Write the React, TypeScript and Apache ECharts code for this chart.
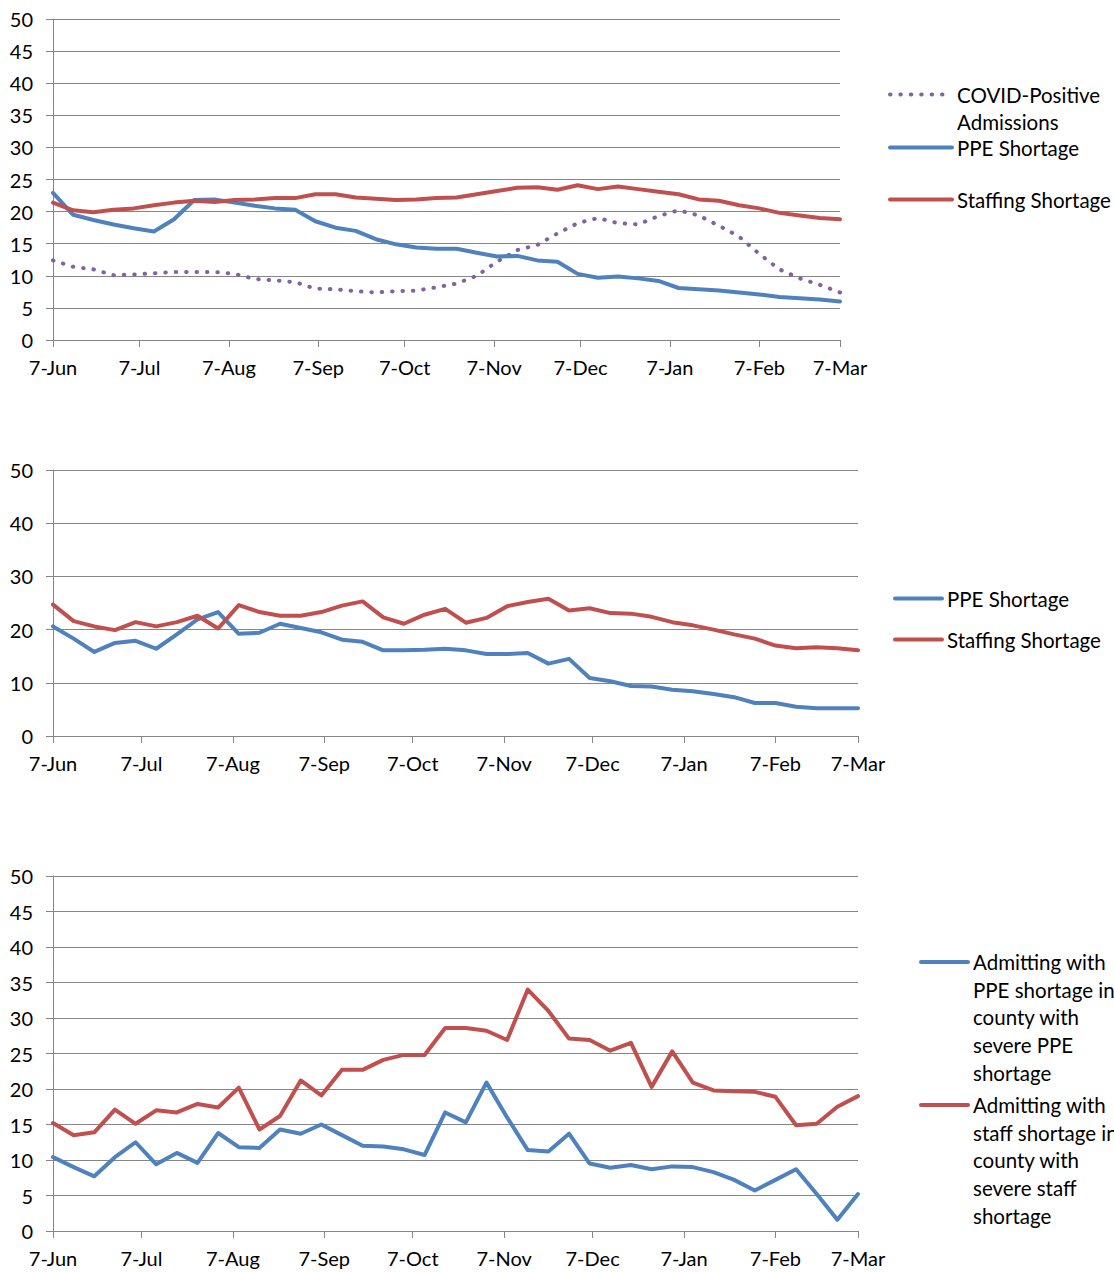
import React, { useEffect, useRef } from 'react';
import * as echarts from 'echarts';

// Weekly observations, 7-Jun through 7-Mar (40 weeks)
const weekDays = Array.from({ length: 40 }, (_, i) => i * 7);
const tickDays = [0, 30, 61, 92, 122, 153, 183, 214, 245, 273];
const tickLabels = ['7-Jun', '7-Jul', '7-Aug', '7-Sep', '7-Oct', '7-Nov', '7-Dec', '7-Jan', '7-Feb', '7-Mar'];

// Chart 1
const covidPositive = [12.4, 11.4, 11.0, 10.1, 10.2, 10.4, 10.6, 10.6, 10.6, 10.3, 9.5, 9.3, 9.0, 8.0, 7.9, 7.6, 7.4, 7.6, 7.7, 8.2, 8.8, 10.0, 12.2, 14.0, 14.8, 16.6, 18.2, 19.0, 18.2, 18.0, 19.3, 20.2, 19.4, 17.8, 16.1, 13.4, 11.0, 9.6, 8.6, 7.4];
const ppe1 = [22.9, 19.5, 18.7, 18.0, 17.4, 16.9, 18.8, 21.8, 21.9, 21.4, 20.9, 20.5, 20.3, 18.5, 17.5, 17.0, 15.7, 14.9, 14.4, 14.2, 14.2, 13.6, 13.0, 13.1, 12.4, 12.2, 10.3, 9.7, 9.9, 9.6, 9.2, 8.1, 7.9, 7.7, 7.4, 7.1, 6.7, 6.5, 6.3, 6.0];
const staff1 = [21.4, 20.2, 19.9, 20.3, 20.5, 21.0, 21.4, 21.7, 21.5, 21.8, 21.9, 22.1, 22.1, 22.7, 22.7, 22.2, 22.0, 21.8, 21.9, 22.1, 22.2, 22.7, 23.2, 23.7, 23.8, 23.4, 24.1, 23.5, 23.9, 23.5, 23.1, 22.7, 21.9, 21.7, 21.0, 20.5, 19.8, 19.4, 19.0, 18.8];

// Chart 2
const ppe2 = [20.6, 18.3, 15.8, 17.5, 17.9, 16.4, 19.1, 21.9, 23.3, 19.2, 19.4, 21.1, 20.3, 19.5, 18.1, 17.7, 16.1, 16.1, 16.2, 16.4, 16.1, 15.4, 15.4, 15.6, 13.6, 14.5, 10.9, 10.3, 9.4, 9.3, 8.7, 8.4, 7.9, 7.3, 6.2, 6.2, 5.5, 5.2, 5.2, 5.2];
const staff2 = [24.7, 21.6, 20.6, 19.9, 21.4, 20.6, 21.4, 22.6, 20.2, 24.6, 23.3, 22.6, 22.6, 23.3, 24.5, 25.3, 22.3, 21.1, 22.8, 23.9, 21.3, 22.2, 24.4, 25.2, 25.8, 23.6, 24.0, 23.1, 23.0, 22.4, 21.4, 20.8, 20.0, 19.1, 18.3, 17.0, 16.5, 16.7, 16.5, 16.1];

// Chart 3
const ppeSevere = [10.4, 9.0, 7.7, 10.4, 12.5, 9.4, 11.0, 9.6, 13.8, 11.8, 11.7, 14.3, 13.7, 15.0, 13.5, 12.0, 11.9, 11.5, 10.7, 16.7, 15.3, 20.9, 16.0, 11.4, 11.2, 13.7, 9.5, 8.9, 9.3, 8.7, 9.1, 9.0, 8.3, 7.2, 5.7, 7.2, 8.7, 5.2, 1.6, 5.2];
const staffSevere = [15.2, 13.5, 13.9, 17.1, 15.1, 17.0, 16.7, 17.9, 17.4, 20.2, 14.3, 16.2, 21.2, 19.1, 22.7, 22.7, 24.1, 24.8, 24.8, 28.6, 28.6, 28.2, 26.9, 34.0, 31.0, 27.1, 26.9, 25.4, 26.5, 20.3, 25.3, 20.9, 19.8, 19.7, 19.6, 18.9, 14.9, 15.1, 17.5, 19.0];

const names = {
  covid: 'COVID-Positive Admissions',
  ppe: 'PPE Shortage',
  staff: 'Staffing Shortage',
  ppeSevere: 'Admitting with PPE shortage in county with severe PPE shortage',
  staffSevere: 'Admitting with staff shortage in county with severe staff shortage',
};
const legendText: Record<string, string> = {
  [names.covid]: 'COVID-Positive\nAdmissions',
  [names.ppe]: 'PPE Shortage',
  [names.staff]: 'Staffing Shortage',
  [names.ppeSevere]: 'Admitting with\nPPE shortage in\ncounty with\nsevere PPE\nshortage',
  [names.staffSevere]: 'Admitting with\nstaff shortage in\ncounty with\nsevere staff\nshortage',
};

const BLUE = '#4F81BD';
const RED = '#C0504D';
const PURPLE = '#8064A2';
const GREY = '#868686';
const FONT = 'Lato';

export default function App() {
  const ref = useRef<HTMLDivElement>(null);
  useEffect(() => {
    if (!ref.current) return;
    const chart = echarts.init(ref.current, undefined, { renderer: 'svg' });

    const grids = [
      { left: 53, top: 19, width: 787, height: 321 },
      { left: 53, top: 470, width: 805, height: 266 },
      { left: 53, top: 876, width: 805, height: 355 },
    ];
    const yIntervals = [5, 10, 5];

    const xAxes = grids.map((_, i) => ({
      type: 'value',
      gridIndex: i,
      min: 0,
      max: 273,
      axisLine: { show: true, lineStyle: { color: GREY, width: 1 } },
      axisTick: { show: true, customValues: tickDays, length: 7, lineStyle: { color: GREY } },
      axisLabel: {
        customValues: tickDays,
        formatter: (v: number) => tickLabels[tickDays.indexOf(Math.round(v))] ?? '',
        color: '#000',
        fontFamily: FONT,
        fontSize: 20,
        margin: 17,
      },
      splitLine: { show: false },
    }));
    const yAxes = grids.map((_, i) => ({
      type: 'value',
      gridIndex: i,
      min: 0,
      max: 50,
      interval: yIntervals[i],
      axisLine: { show: true, lineStyle: { color: GREY, width: 1 } },
      axisTick: { show: true, length: 7, lineStyle: { color: GREY } },
      axisLabel: { color: '#000', fontFamily: FONT, fontSize: 20, margin: 20 },
      splitLine: { show: true, lineStyle: { color: GREY, width: 1 } },
    }));

    const mk = (name: string, values: number[], color: string, idx: number, dotted = false) => ({
      type: 'line',
      name,
      xAxisIndex: idx,
      yAxisIndex: idx,
      data: values.map((v, i) => [weekDays[i], v]),
      symbol: 'none',
      color,
      lineStyle: {
        color,
        width: 4,
        cap: 'round',
        join: 'round',
        type: dotted ? [0.5, 9.9] : 'solid',
      },
      emphasis: { disabled: true },
    });

    // Legend item whose first text line is level with its line marker.
    const legendItem = (name: string, left: number, iconY: number, itemWidth: number, lh: number) => {
      const lines = legendText[name].split('\n').length;
      const itemHeight = 4;
      return {
        data: [name],
        left,
        top: iconY - 14 - (lines - 1) * lh,
        orient: 'vertical',
        padding: 0,
        itemGap: 0,
        itemWidth,
        itemHeight,
        selectedMode: false,
        formatter: (n: string) => '\n'.repeat(lines - 1) + legendText[n],
        itemStyle: { opacity: 0 },
        lineStyle: { width: 4, cap: 'round' },
        textStyle: {
          color: '#000',
          fontFamily: FONT,
          fontSize: 20.5,
          lineHeight: lh,
        },
      };
    };

    chart.setOption({
      animation: false,
      backgroundColor: '#fff',
      grid: grids,
      xAxis: xAxes,
      yAxis: yAxes,
      legend: [
        legendItem(names.covid, 888, 95, 62, 27),
        legendItem(names.ppe, 888, 148, 62, 27),
        legendItem(names.staff, 888, 200, 62, 27),
        legendItem(names.ppe, 893, 599, 47, 27),
        legendItem(names.staff, 893, 640, 47, 27),
        legendItem(names.ppeSevere, 919, 962, 47, 27.8),
        legendItem(names.staffSevere, 919, 1105, 47, 27.8),
      ],
      series: [
        mk(names.covid, covidPositive, PURPLE, 0, true),
        mk(names.ppe, ppe1, BLUE, 0),
        mk(names.staff, staff1, RED, 0),
        mk(names.ppe, ppe2, BLUE, 1),
        mk(names.staff, staff2, RED, 1),
        mk(names.ppeSevere, ppeSevere, BLUE, 2),
        mk(names.staffSevere, staffSevere, RED, 2),
      ],
    });
    return () => chart.dispose();
  }, []);

  return (
    <div
      ref={ref}
      style={{ position: 'absolute', left: 0, top: 0, width: 1114, height: 1272, background: '#fff' }}
    />
  );
}
